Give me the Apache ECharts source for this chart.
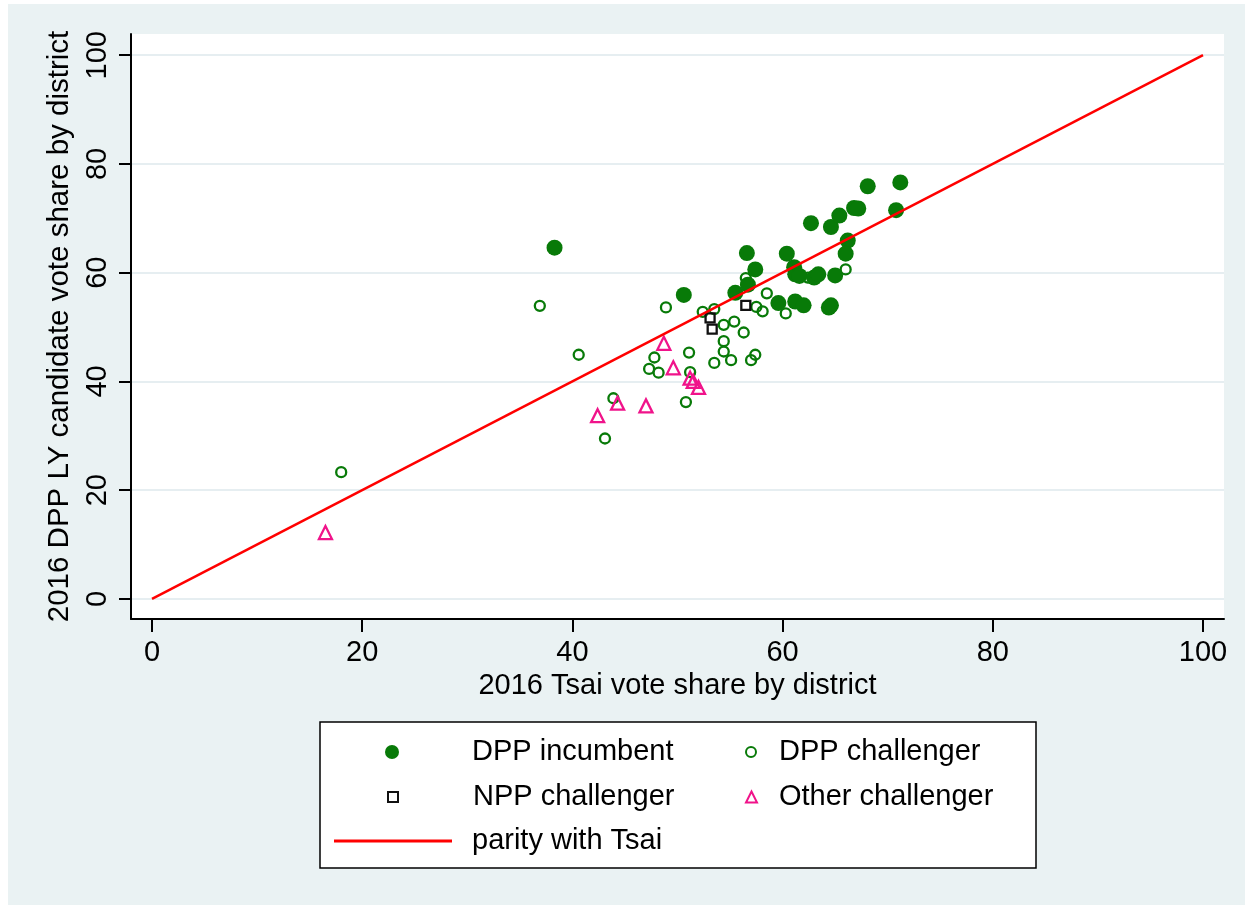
<!DOCTYPE html>
<html>
<head>
<meta charset="utf-8">
<script src="https://cdn.jsdelivr.net/npm/echarts@6/dist/echarts.min.js"></script>
<style>
  html, body { margin: 0; padding: 0; background: #fff; }
  #bg { position: absolute; left: 8px; top: 4px; width: 1237px; height: 901px; background: #eaf2f3; }
  #chart { position: absolute; left: 0; top: 0; width: 1253px; height: 909px; }
</style>
</head>
<body>
<div id="bg"></div>
<div id="chart"></div>
<script>
// DPP incumbent (filled circles)
const incumbentX = [38.3, 50.6, 55.5, 56.7, 56.6, 57.4, 59.6, 60.4, 61.1, 61.2, 61.6, 61.2, 62.0, 63.0, 63.4, 65.0, 64.6, 64.4, 62.7, 64.6, 65.4, 66.8, 67.2, 68.1, 71.2, 70.8, 66.2, 66.0];
const incumbentY = [64.6, 55.9, 56.3, 57.8, 63.6, 60.6, 54.4, 63.5, 61.0, 59.7, 59.4, 54.7, 54.0, 59.1, 59.7, 59.5, 54.0, 53.6, 69.1, 68.4, 70.5, 71.9, 71.8, 75.9, 76.6, 71.5, 65.9, 63.5];

// DPP challenger (hollow circles)
const challengerX = [18.0, 36.9, 40.6, 43.9, 43.1, 47.8, 47.3, 48.2, 48.9, 50.8, 51.1, 51.2, 52.4, 53.5, 53.5, 54.4, 54.4, 54.4, 55.1, 55.4, 56.3, 56.5, 57.0, 57.4, 57.5, 58.1, 58.5, 60.3, 62.4, 66.0];
const challengerY = [23.3, 53.9, 44.9, 36.9, 29.5, 44.4, 42.3, 41.6, 53.6, 36.2, 45.3, 41.7, 52.8, 53.3, 43.4, 50.4, 47.4, 45.5, 43.9, 51.0, 49.0, 59.0, 43.9, 44.9, 53.7, 52.9, 56.2, 52.5, 59.1, 60.6];

// NPP challenger (squares)
const nppX = [53.1, 53.3, 56.5];
const nppY = [51.7, 49.6, 54.0];

// Other challenger (triangles)
const otherX = [16.5, 42.4, 44.3, 47.0, 48.7, 49.6, 51.2, 51.5, 52.0];
const otherY = [12.2, 33.7, 36.0, 35.5, 47.0, 42.5, 40.6, 40.0, 38.9];

// parity line
const parityX = [0, 100];
const parityY = [0, 100];

const xTicks = [0, 20, 40, 60, 80, 100];
const yTicks = [0, 20, 40, 60, 80, 100];

const GREEN = "#087a08";
const PINK = "#f0138a";
const RED = "#ff0000";
const FONT = "'Liberation Sans', Arial, Helvetica, sans-serif";

const zip = (xs, ys) => xs.map((x, i) => [x, ys[i]]);

const chart = echarts.init(document.getElementById("chart"));

// one small legend per entry so each can be placed like the Stata key
const legendItem = (item, left, top, w, h, pad, extra) => Object.assign({
  show: true,
  data: [item],
  left: left,
  top: top,
  padding: 0,
  itemWidth: w,
  itemHeight: h,
  selectedMode: false,
  textStyle: {
    fontFamily: FONT,
    fontSize: 29,
    lineHeight: 29,
    color: "#000",
    padding: [0, 0, 0, pad],
  },
}, extra || {});

chart.setOption({
  animation: false,
  textStyle: { fontFamily: FONT },
  grid: {
    left: 131,
    top: 34,
    right: 29,
    bottom: 290,
    show: true,
    backgroundColor: "#fff",
    borderWidth: 0,
  },
  graphic: [
    {
      type: "rect",
      z: 0,
      shape: { x: 320, y: 722, width: 716, height: 146 },
      style: { fill: "#fff", stroke: "#000", lineWidth: 1.5 },
    },
  ],
  legend: [
    legendItem("DPP incumbent", 385, 737.5, 14, 14, 68),
    legendItem("NPP challenger", 387, 782.5, 10, 10, 70),
    legendItem({ name: "parity with Tsai", icon: "rect" }, 334, 826.5, 118, 3, 15,
      { itemStyle: { color: RED, borderWidth: 0 } }),
    legendItem("DPP challenger", 745, 737.5, 10, 10, 18),
    legendItem("Other challenger", 745, 782.5, 11, 11, 17),
  ],
  xAxis: {
    type: "value",
    min: -2,
    max: 102,
    name: "2016 Tsai vote share by district",
    nameLocation: "middle",
    nameGap: 51,
    nameTextStyle: { fontSize: 29, color: "#000", fontFamily: FONT },
    axisLine: { show: true, onZero: false, lineStyle: { color: "#000", width: 2 } },
    axisTick: { show: true, length: 13, customValues: xTicks, lineStyle: { color: "#000", width: 2 } },
    axisLabel: { customValues: xTicks, fontSize: 29, margin: 19, color: "#000", fontFamily: FONT },
    splitLine: { show: false },
  },
  yAxis: {
    type: "value",
    min: -3.7,
    max: 103.9,
    name: "2016 DPP LY candidate vote share by district",
    nameLocation: "middle",
    nameGap: 52,
    nameTextStyle: { fontSize: 29.5, color: "#000", fontFamily: FONT },
    axisLine: { show: true, onZero: false, lineStyle: { color: "#000", width: 2 } },
    axisTick: { show: true, length: 12, customValues: yTicks, lineStyle: { color: "#000", width: 2 } },
    axisLabel: { customValues: yTicks, rotate: 90, fontSize: 29, margin: 19, color: "#000", fontFamily: FONT },
    splitLine: { show: true, lineStyle: { color: "#e6eef1", width: 2 } },
  },
  series: [
    {
      name: "DPP challenger",
      type: "scatter",
      symbol: "circle",
      symbolSize: 10,
      data: zip(challengerX, challengerY),
      itemStyle: { color: "rgba(255,255,255,0)", borderColor: GREEN, borderWidth: 2.3, opacity: 1 },
    },
    {
      name: "DPP incumbent",
      type: "scatter",
      symbol: "circle",
      symbolSize: 16,
      data: zip(incumbentX, incumbentY),
      itemStyle: { color: GREEN, opacity: 1 },
    },
    {
      name: "NPP challenger",
      type: "scatter",
      symbol: "rect",
      symbolSize: 9,
      data: zip(nppX, nppY),
      itemStyle: { color: "rgba(255,255,255,0)", borderColor: "#111", borderWidth: 2.3, opacity: 1 },
    },
    {
      name: "Other challenger",
      type: "scatter",
      symbol: "triangle",
      symbolSize: 13,
      data: zip(otherX, otherY),
      itemStyle: { color: "rgba(255,255,255,0)", borderColor: PINK, borderWidth: 2.3, opacity: 1 },
    },
    {
      name: "parity with Tsai",
      type: "line",
      symbol: "none",
      data: zip(parityX, parityY),
      itemStyle: { color: RED },
      lineStyle: { color: RED, width: 2.5 },
      z: 5,
    },
  ],
});
</script>
</body>
</html>
